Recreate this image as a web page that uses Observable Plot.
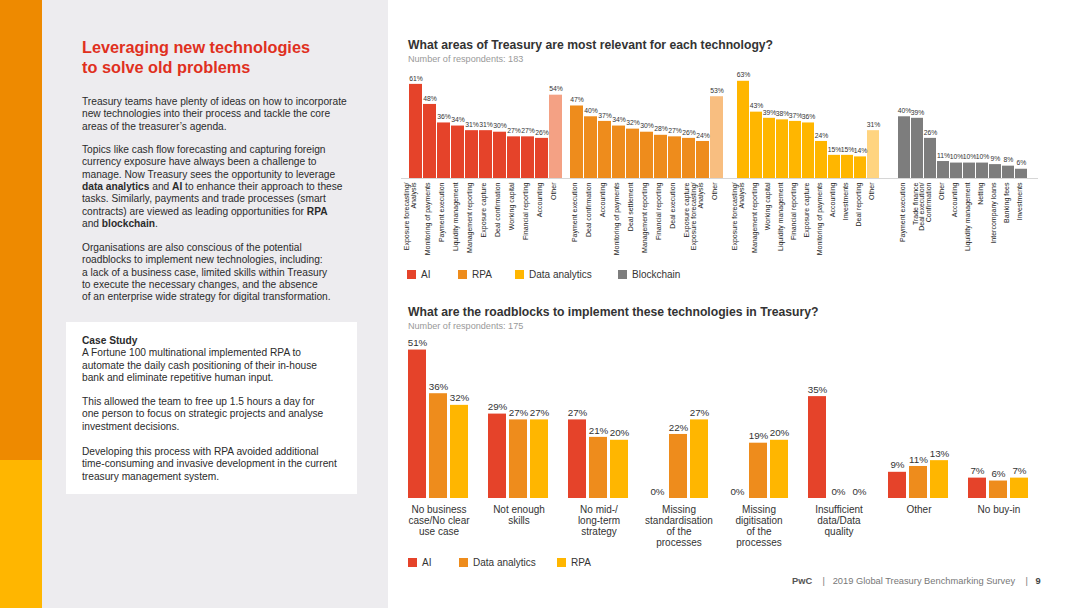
<!DOCTYPE html>
<html>
<head>
<meta charset="utf-8">
<script src="https://cdn.jsdelivr.net/npm/d3@7"></script>
<script src="https://cdn.jsdelivr.net/npm/@observablehq/plot@0.6"></script>
<style>
  html, body { margin: 0; padding: 0; }
  body { width: 1080px; height: 608px; position: relative; overflow: hidden; background: #fff;
         font-family: "Liberation Sans", Arial, Helvetica, sans-serif; color: #2d2d2d; }
  .abs { position: absolute; }
  svg { overflow: visible; }
  .p { position: absolute; left: 82px; font-size: 10.2px; line-height: 12.4px; white-space: nowrap; color: #2b2b2b; }
  .legend { position: absolute; font-size: 10px; color: #333; }
  .legend .item { position: absolute; display: flex; align-items: center; white-space: nowrap; }
  .legend .sw { width: 9px; height: 9px; margin-right: 5px; display: inline-block; }
</style>
</head>
<body>
<!-- decorative stripes and panel -->
<div class="abs" style="left:0;top:0;width:42px;height:460px;background:#EE8A00"></div>
<div class="abs" style="left:0;top:460px;width:42px;height:148px;background:#FFB600"></div>
<div class="abs" style="left:42px;top:0;width:346px;height:608px;background:#EDECEF"></div>

<div class="abs" style="left:82px;top:37px;font-size:16.3px;line-height:20px;font-weight:bold;color:#E0301E;white-space:nowrap">Leveraging new technologies<br>to solve old problems</div>

<div class="p" style="top:95.8px">Treasury teams have plenty of ideas on how to incorporate<br>new technologies into their process and tackle the core<br>areas of the treasurer’s agenda.</div>
<div class="p" style="top:143.8px">Topics like cash flow forecasting and capturing foreign<br>currency exposure have always been a challenge to<br>manage. Now Treasury sees the opportunity to leverage<br><b>data analytics</b> and <b>AI</b> to enhance their approach to these<br>tasks. Similarly, payments and trade processes (smart<br>contracts) are viewed as leading opportunities for <b>RPA</b><br>and <b>blockchain</b>.</div>
<div class="p" style="top:241.8px">Organisations are also conscious of the potential<br>roadblocks to implement new technologies, including:<br>a lack of a business case, limited skills within Treasury<br>to execute the necessary changes, and the absence<br>of an enterprise wide strategy for digital transformation.</div>

<div class="abs" style="left:66px;top:322px;width:291px;height:172px;background:#fff"></div>
<div class="p" style="top:334.8px"><b>Case Study</b><br>A Fortune 100 multinational implemented RPA to<br>automate the daily cash positioning of their in-house<br>bank and eliminate repetitive human input.</div>
<div class="p" style="top:395.8px">This allowed the team to free up 1.5 hours a day for<br>one person to focus on strategic projects and analyse<br>investment decisions.</div>
<div class="p" style="top:445.8px">Developing this process with RPA avoided additional<br>time-consuming and invasive development in the current<br>treasury management system.</div>

<!-- chart titles -->
<div class="abs" style="left:408px;top:38px;font-size:12.2px;line-height:14px;font-weight:bold;color:#333;white-space:nowrap">What areas of Treasury are most relevant for each technology?</div>
<div class="abs" style="left:408px;top:54px;font-size:9.1px;line-height:10px;color:#999;white-space:nowrap">Number of respondents: 183</div>
<div class="abs" style="left:408px;top:305px;font-size:12.2px;line-height:14px;font-weight:bold;color:#333;white-space:nowrap">What are the roadblocks to implement these technologies in Treasury?</div>
<div class="abs" style="left:408px;top:321px;font-size:9.1px;line-height:10px;color:#999;white-space:nowrap">Number of respondents: 175</div>

<div id="topcharts"></div>
<div id="toplegend" class="legend" style="left:0;top:269px"></div>
<div id="bottomchart" class="abs" style="left:398px;top:330px"></div>
<div id="bottomlegend" class="legend" style="left:0;top:557px"></div>

<div class="abs" style="left:792px;top:576px;font-size:9.3px;line-height:10px;color:#777;white-space:nowrap"><b style="color:#555">PwC</b>&nbsp;&nbsp;&nbsp;&nbsp;|&nbsp;&nbsp;&nbsp;2019 Global Treasury Benchmarking Survey&nbsp;&nbsp;&nbsp;&nbsp;|&nbsp;&nbsp;&nbsp;<b style="color:#444">9</b></div>

<script>
// ---------- DATA ----------
const techs = ["AI", "RPA", "Data analytics", "Blockchain"];

const aiAreas = ["Exposure forecasting/\nAnalysis", "Monitoring of payments", "Payment execution", "Liquidity management", "Management reporting", "Exposure capture", "Deal confirmation", "Working capital", "Financial reporting", "Accounting", "Other"];
const aiValues = [61, 48, 36, 34, 31, 31, 30, 27, 27, 26, 54];

const rpaAreas = ["Payment execution", "Deal confirmation", "Accounting", "Monitoring of payments", "Deal settlement", "Management reporting", "Financial reporting", "Deal execution", "Exposure capture", "Exposure forecasting/\nAnalysis", "Other"];
const rpaValues = [47, 40, 37, 34, 32, 30, 28, 27, 26, 24, 53];

const daAreas = ["Exposure forecasting/\nAnalysis", "Management reporting", "Working capital", "Liquidity management", "Financial reporting", "Exposure capture", "Monitoring of payments", "Accounting", "Investments", "Deal reporting", "Other"];
const daValues = [63, 43, 39, 38, 37, 36, 24, 15, 15, 14, 31];

const bcAreas = ["Payment execution", "Trade finance", "Deal execution/\nConfirmation", "Other", "Accounting", "Liquidity management", "Netting", "Intercompany loans", "Banking fees", "Investments"];
const bcValues = [40, 39, 26, 11, 10, 10, 10, 9, 8, 6];

const roadblocks = ["No business\ncase/No clear\nuse case", "Not enough\nskills", "No mid-/\nlong-term\nstrategy", "Missing\nstandardisation\nof the\nprocesses", "Missing\ndigitisation\nof the\nprocesses", "Insufficient\ndata/Data\nquality", "Other", "No buy-in"];
const roadTechs = ["AI", "Data analytics", "RPA"];
const rbAI  = [51, 29, 27, 0, 0, 35, 9, 7];
const rbDA  = [36, 27, 21, 22, 19, 0, 11, 6];
const rbRPA = [32, 27, 20, 27, 20, 0, 13, 7];

// ---------- STYLE ----------
const colors = {"AI": "#E5432A", "RPA": "#EE8C1C", "Data analytics": "#FFB600", "Blockchain": "#7D7D7D"};
const otherColors = {"AI": "#F4A184", "RPA": "#F8BE80", "Data analytics": "#FFD480", "Blockchain": "#7D7D7D"};
const topLayout = [
  {left: 406, width: 158},
  {left: 568, width: 157},
  {left: 731, width: 153},
  {left: 892, width: 141}
];

const topSets = [
  [aiAreas, aiValues],
  [rpaAreas, rpaValues],
  [daAreas, daValues],
  [bcAreas, bcValues]
];

const topContainer = document.getElementById("topcharts");
topSets.forEach(([areas, values], i) => {
  const tech = techs[i];
  const data = areas.map((a, j) => ({area: a, value: values[j]}));
  const chart = Plot.plot({
    width: topLayout[i].width,
    height: 200,
    marginTop: 4,
    marginBottom: 88,
    marginLeft: 0,
    marginRight: 0,
    style: {fontFamily: "'Liberation Sans', Arial, Helvetica, sans-serif", background: "transparent", overflow: "visible"},
    x: {domain: areas, padding: 0.1, axis: null},
    y: {domain: [0, 70], axis: null},
    marks: [
      Plot.ruleY([0], {stroke: "#d6d6d6", strokeWidth: 1, insetLeft: -5, insetRight: -5}),
      Plot.barY(data, {x: "area", y: "value", fill: d => d.area === "Other" ? otherColors[tech] : colors[tech]}),
      Plot.text(data, {x: "area", y: "value", text: d => d.value + "%", dy: -6, fontSize: 6.8, fill: "#333"}),
      Plot.text(data, {x: "area", text: "area", frameAnchor: "bottom", rotate: -90, textAnchor: "end", dy: 4, fontSize: 7, lineHeight: 1.0, fill: "#222"})
    ]
  });
  const wrap = document.createElement("div");
  wrap.className = "abs";
  wrap.style.left = topLayout[i].left + "px";
  wrap.style.top = "66px";
  wrap.appendChild(chart);
  topContainer.appendChild(wrap);
});

// top legend
const topLegendLefts = [407, 458, 515, 618];
const tl = document.getElementById("toplegend");
techs.forEach((t, i) => {
  const it = document.createElement("div");
  it.className = "item";
  it.style.left = topLegendLefts[i] + "px";
  it.innerHTML = `<span class="sw" style="background:${colors[t]}"></span>${t}`;
  tl.appendChild(it);
});

// ---------- BOTTOM CHART ----------
const rbSeries = {"AI": rbAI, "Data analytics": rbDA, "RPA": rbRPA};
const bottomColors = {"AI": "#E5432A", "Data analytics": "#EE8C1C", "RPA": "#FFB600"};
const rows = [];
roadblocks.forEach((c, i) => {
  roadTechs.forEach(t => rows.push({cat: c, tech: t, value: rbSeries[t][i]}));
});

const bottom = Plot.plot({
  width: 643,
  height: 230,
  marginTop: 5,
  marginBottom: 62,
  marginLeft: 10,
  marginRight: 12,
  style: {fontFamily: "'Liberation Sans', Arial, Helvetica, sans-serif", background: "transparent", overflow: "visible"},
  fx: {domain: roadblocks, paddingInner: 0.24, paddingOuter: 0, axis: null, label: null},
  x: {domain: roadTechs, paddingInner: 0.14, paddingOuter: 0, axis: null},
  y: {domain: [0, 56], axis: null},
  color: {domain: roadTechs, range: roadTechs.map(t => bottomColors[t])},
  marks: [
    Plot.barY(rows, {fx: "cat", x: "tech", y: "value", fill: "tech"}),
    Plot.text(rows, {fx: "cat", x: "tech", y: "value", text: d => d.value + "%", dy: -7, fontSize: 9.8, fill: "#333"}),
    Plot.text(roadblocks, {fx: d => d, text: d => d, frameAnchor: "bottom", lineAnchor: "top", dy: 6, fontSize: 10, lineHeight: 1.13, fill: "#333"})
  ]
});
document.getElementById("bottomchart").appendChild(bottom);

const bottomLegendLefts = [408, 459, 557];
const bl = document.getElementById("bottomlegend");
roadTechs.forEach((t, i) => {
  const it = document.createElement("div");
  it.className = "item";
  it.style.left = bottomLegendLefts[i] + "px";
  it.innerHTML = `<span class="sw" style="background:${bottomColors[t]}"></span>${t}`;
  bl.appendChild(it);
});
</script>
</body>
</html>
